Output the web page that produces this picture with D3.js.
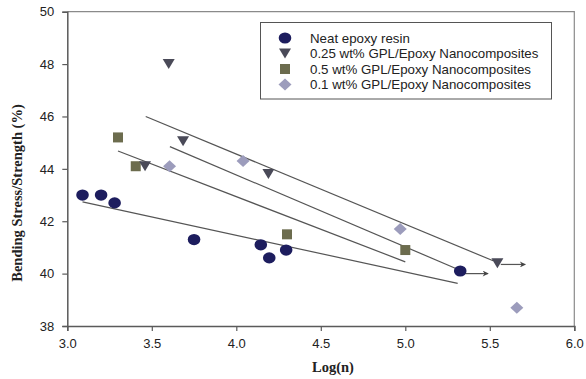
<!DOCTYPE html>
<html><head><meta charset="utf-8">
<script src="https://cdn.jsdelivr.net/npm/d3@7"></script>
<style>body{margin:0;background:#fff}svg{display:block}</style>
</head><body><svg id="c" width="586" height="379"></svg>
<script>
const seriesNames = ["Neat epoxy resin","0.25 wt% GPL/Epoxy Nanocomposites","0.5 wt% GPL/Epoxy Nanocomposites","0.1 wt% GPL/Epoxy Nanocomposites"];
const neatX = [3.09,3.20,3.28,3.75,4.145,4.195,4.295,5.325];
const neatY = [43.0,43.0,42.7,41.3,41.1,40.6,40.9,40.1];
const gpl025X = [3.46,3.60,3.685,4.19,5.545];
const gpl025Y = [44.1,48.0,45.05,43.8,40.4];
const gpl05X = [3.30,3.405,4.30,5.00];
const gpl05Y = [45.2,44.1,41.5,40.9];
const gpl01X = [3.605,4.04,4.97,5.66];
const gpl01Y = [44.1,44.3,41.7,38.7];
// trend lines: [x1,y1,x2,y2]
const trendLines = [[3.09,42.74,5.31,39.63],[3.30,44.68,5.00,40.45],[3.607,44.85,5.32,40.14],[3.464,46.0,5.52,40.49]];
// arrows (run-out markers): [x1,x2,y]
const arrows = [[5.34,5.49,40.0],[5.565,5.71,40.35]];
const xTicks = [3.0,3.5,4.0,4.5,5.0,5.5,6.0];
const yTicks = [38,40,42,44,46,48,50];

const svg = d3.select("#c");
const x = d3.scaleLinear().domain([3,6]).range([67.3,574.3]);
const y = d3.scaleLinear().domain([38,50]).range([326,11.7]);
const colors = ["#1d1d5e","#4a4a58","#6c6c4e","#9c9cbc"];

// frame top/right
svg.append("path").attr("d",`M${x(3)},${y(50)}H${x(6)}V${y(38)}`).attr("fill","none").attr("stroke","#8a8a8a").attr("stroke-width",1.2);

const fmt = d3.format(".1f");
const xa = svg.append("g").attr("transform",`translate(0,${y(38)})`).call(d3.axisBottom(x).tickValues(xTicks).tickFormat(fmt).tickSizeOuter(0).tickSize(5).tickPadding(8));
const ya = svg.append("g").attr("transform",`translate(${x(3)},0)`).call(d3.axisLeft(y).tickValues(yTicks).tickFormat(d3.format("d")).tickSizeOuter(0).tickSize(5).tickPadding(8));
[xa,ya].forEach(a=>{
  a.select(".domain").attr("stroke","#5a5a5a").attr("stroke-width",1.5);
  a.selectAll(".tick line").attr("stroke","#5a5a5a").attr("stroke-width",1.2);
  a.selectAll("text").attr("font-family","Liberation Sans, Arial, sans-serif").attr("font-size",13).attr("fill","#222");
});

// trend lines
svg.append("g").selectAll("line").data(trendLines).join("line")
  .attr("x1",d=>x(d[0])).attr("y1",d=>y(d[1])).attr("x2",d=>x(d[2])).attr("y2",d=>y(d[3]))
  .attr("stroke","#555").attr("stroke-width",1.2);

// arrows
const defs = svg.append("defs");
defs.append("marker").attr("id","ah").attr("viewBox","0 0 10 10").attr("refX",9).attr("refY",5)
  .attr("markerWidth",9).attr("markerHeight",6).attr("markerUnits","userSpaceOnUse").attr("orient","auto")
  .append("path").attr("d","M0,0L10,5L0,10L3,5Z").attr("fill","#444");
svg.append("g").selectAll("line").data(arrows).join("line")
  .attr("x1",d=>x(d[0])).attr("x2",d=>x(d[1])).attr("y1",d=>y(d[2])).attr("y2",d=>y(d[2]))
  .attr("stroke","#555").attr("stroke-width",1.2).attr("marker-end","url(#ah)");

// symbols
function sym(g,i,cx,cy){
  if(i===0) g.append("ellipse").attr("cx",cx).attr("cy",cy).attr("rx",6.3).attr("ry",5.6).attr("fill",colors[0]);
  else if(i===1) g.append("path").attr("d",`M${cx-6},${cy-5}L${cx+6},${cy-5}L${cx},${cy+5}Z`).attr("fill",colors[1]);
  else if(i===2) g.append("rect").attr("x",cx-5).attr("y",cy-5).attr("width",10).attr("height",10).attr("fill",colors[2]);
  else g.append("path").attr("d",`M${cx},${cy-6}L${cx+6.5},${cy}L${cx},${cy+6}L${cx-6.5},${cy}Z`).attr("fill",colors[3]);
}
const seriesData = [[neatX,neatY],[gpl025X,gpl025Y],[gpl05X,gpl05Y],[gpl01X,gpl01Y]];
const pts = svg.append("g");
[2,3,1,0].forEach(i=>{
  const [xs,ys]=seriesData[i];
  xs.forEach((xv,j)=>sym(pts,i,x(xv),y(ys[j])));
});

// legend
const lg = svg.append("g");
lg.append("rect").attr("x",260.5).attr("y",22.5).attr("width",291).attr("height",76.5).attr("fill","#fff").attr("stroke","#555").attr("stroke-width",1);
seriesNames.forEach((n,i)=>{
  const cy = 38 + i*15.5;
  sym(lg,i,285,cy);
  lg.append("text").attr("x",310).attr("y",cy+4.5).text(n).attr("font-family","Liberation Sans, Arial, sans-serif").attr("font-size",13.3).attr("fill","#222");
});

// axis titles
svg.append("text").attr("x",333).attr("y",372).attr("text-anchor","middle").text("Log(n)")
  .attr("font-family","Liberation Serif, Times New Roman, serif").attr("font-weight","bold").attr("font-size",14.5).attr("fill","#222");
svg.append("text").attr("transform","translate(22,193) rotate(-90)").attr("text-anchor","middle").text("Bending Stress/Strength (%)")
  .attr("font-family","Liberation Serif, Times New Roman, serif").attr("font-weight","bold").attr("font-size",14.5).attr("fill","#222");
</script></body></html>
